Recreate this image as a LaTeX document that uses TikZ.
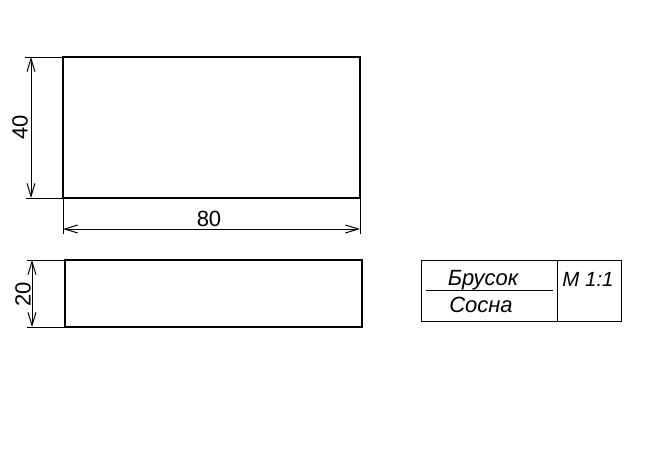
\documentclass[tikz,border=0pt]{standalone}
\usepackage{fontspec}
\setmainfont{Liberation Sans}
\usetikzlibrary{arrows.meta}

\begin{document}
\begin{tikzpicture}[x=1pt,y=-1pt]
\tikzstyle{part} = [draw,line width=2,inner sep=0,outer sep=0,anchor=north west];
\tikzstyle{cell} = [draw,line width=1,inner sep=0,outer sep=0,anchor=north west];
\tikzstyle{ext} = [line width=1];
\tikzstyle{dim} = [line width=1,{Straight Barb[length=13,width=8]}-{Straight Barb[length=13,width=8]}];
\tikzstyle{size} = [font=\fontsize{22}{26}\selectfont,inner sep=0];
\tikzstyle{txt} = [font=\fontsize{22}{26}\selectfont\itshape,inner sep=0];
\useasboundingbox (0,0) rectangle (649,450);
\node [part,minimum width=297,minimum height=141] (v1) at (63,57) {};
\node [part,minimum width=297,minimum height=67] (v2) at (65,260) {};
\coordinate (e1) at (25,57);
\coordinate (e2) at (26,198);
\coordinate (e3) at (63,234);
\coordinate (e4) at (360,234);
\coordinate (e5) at (27,260);
\coordinate (e6) at (27,327);
\draw [ext] (v1.north west) -- (e1);
\draw [ext] (v1.south west) -- (e2);
\draw [ext] (v1.south west) -- (e3);
\draw [ext] (v1.south east) -- (e4);
\draw [ext] (v2.north west) -- (e5);
\draw [ext] (v2.south west) -- (e6);
\coordinate (d1) at (31,57);
\coordinate (d2) at (31,198);
\coordinate (d3) at (63,229);
\coordinate (d4) at (360,229);
\coordinate (d5) at (32,260);
\coordinate (d6) at (32,327);
\draw [dim] (d1) -- (d2);
\draw [dim] (d3) -- (d4);
\draw [dim] (d5) -- (d6);
\node [size,rotate=90] (s1) at (20,127) {40};
\node [size] (s2) at (209,219) {80};
\node [size,rotate=90] (s3) at (23,294) {20};
\node [cell,minimum width=136,minimum height=61] (t1) at (421,260) {};
\node [cell,minimum width=64,minimum height=61] (t2) at (557,260) {};
\coordinate (l1) at (426,290);
\coordinate (l2) at (553,290);
\draw [ext] (l1) -- (l2);
\node [txt] (n1) at (483,280) {Брусок};
\node [txt] (n2) at (481,305) {Сосна};
\node [txt,font=\fontsize{20.5}{24}\selectfont\itshape] (n3) at (588,279) {М 1:1};
\end{tikzpicture}
\end{document}
